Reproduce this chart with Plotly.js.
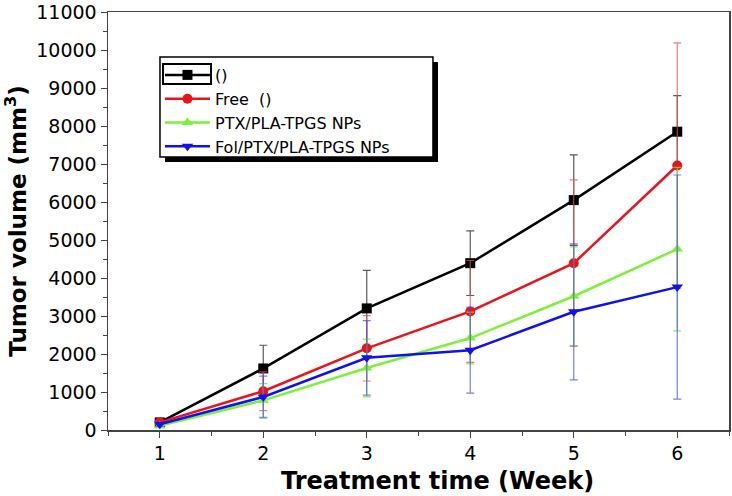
<!DOCTYPE html>
<html>
<head>
<meta charset="utf-8">
<script src="https://cdn.plot.ly/plotly-3.0.1.min.js"></script>
<style>html,body{margin:0;padding:0;background:#fff;}#chart{width:732px;height:496px;}</style>
</head>
<body>
<div id="chart"></div>
<script>
const weeks = [1, 2, 3, 4, 5, 6];
const seriesNames = ["()", "Free  ()", "PTX/PLA-TPGS NPs", "Fol/PTX/PLA-TPGS NPs"];
const controlVol = [200, 1620, 3200, 4390, 6050, 7850];
const controlErr = [60, 610, 1000, 850, 1190, 950];
const freeVol = [200, 1020, 2150, 3120, 4390, 6960];
const freeErr = [60, 510, 860, 1340, 2190, 3230];
const ptxVol = [110, 780, 1630, 2420, 3520, 4760];
const ptxErr = [50, 440, 760, 680, 1300, 2150];
const folVol = [150, 870, 1900, 2100, 3110, 3760];
const folErr = [50, 550, 980, 1130, 1790, 2950];
const xTitle = "Treatment time (Week)";
const yTitle = "Tumor volume (mm<sup>3</sup>)";

const font = "DejaVu Sans, Liberation Sans, Arial, sans-serif";

function tr(name, y, err, color, barColor, symbol) {
  return {
    x: weeks, y: y, name: name, type: "scatter", mode: "lines+markers",
    line: {color: color, width: 2.5},
    marker: {symbol: symbol, size: 10, color: color},
    error_y: {type: "data", array: err, visible: true, color: barColor, thickness: 1.2, width: 4}
  };
}

const data = [
  tr(seriesNames[0], controlVol, controlErr, "#000000", "rgba(60,60,60,0.85)", "square"),
  tr(seriesNames[1], freeVol, freeErr, "#e8141c", "rgba(230,80,90,0.75)", "circle"),
  tr(seriesNames[2], ptxVol, ptxErr, "#7df03a", "rgba(110,230,60,0.8)", "triangle-up"),
  tr(seriesNames[3], folVol, folErr, "#1010f0", "rgba(70,70,240,0.7)", "triangle-down")
];

const layout = {
  width: 732, height: 496,
  margin: {l: 108, r: 3, t: 12, b: 66},
  paper_bgcolor: "#fff", plot_bgcolor: "#fff",
  font: {family: font, color: "#000"},
  showlegend: true,
  legend: {
    x: 0.0837, y: 0.8900, xanchor: "left", yanchor: "top",
    bgcolor: "rgba(0,0,0,0)", borderwidth: 0,
    font: {family: font, size: 16, color: "#000"},
    tracegroupgap: 0, itemwidth: 45
  },
  xaxis: {
    range: [0.5, 6.5], tickvals: weeks, ticks: "outside", ticklen: 6, tickcolor: "#444",
    showline: true, linecolor: "#444", linewidth: 1.5, mirror: true, showgrid: false, zeroline: false,
    tickfont: {size: 19, family: font},
    minor: {dtick: 0.5, ticks: "outside", ticklen: 4, tickcolor: "#444"}
  },
  yaxis: {
    range: [0, 11000], dtick: 1000, tickformat: "d", ticks: "outside", ticklen: 6, tickcolor: "#444",
    showline: true, linecolor: "#444", linewidth: 1.5, mirror: true, showgrid: false, zeroline: false,
    tickfont: {size: 19, family: font},
    minor: {dtick: 500, ticks: "outside", ticklen: 4, tickcolor: "#444"},
    title: {text: "<b>" + yTitle + "</b>", font: {size: 23, family: font}, standoff: 3}
  },
  annotations: [
    {text: "<b>" + xTitle + "</b>", xref: "paper", yref: "paper", x: 0.53, y: -0.122,
     xanchor: "center", yanchor: "middle", showarrow: false, font: {size: 24, family: font, color: "#000"}}
  ],
  shapes: [
    {type: "rect", xref: "paper", yref: "paper", x0: 0.0918, x1: 0.5314, y0: 0.6411, y1: 0.8804,
     fillcolor: "#000", line: {width: 0}, layer: "above"},
    {type: "rect", xref: "paper", yref: "paper", x0: 0.0837, x1: 0.5233, y0: 0.6531, y1: 0.8923,
     fillcolor: "#fff", line: {width: 1.5, color: "#000"}, layer: "above"},
    {type: "rect", xref: "paper", yref: "paper", x0: 0.0886, x1: 0.1659, y0: 0.8278, y1: 0.8756,
     fillcolor: "rgba(0,0,0,0)", line: {width: 2, color: "#000"}, layer: "above"}
  ]
};

Plotly.newPlot("chart", data, layout, {staticPlot: true, displayModeBar: false});
</script>
</body>
</html>
